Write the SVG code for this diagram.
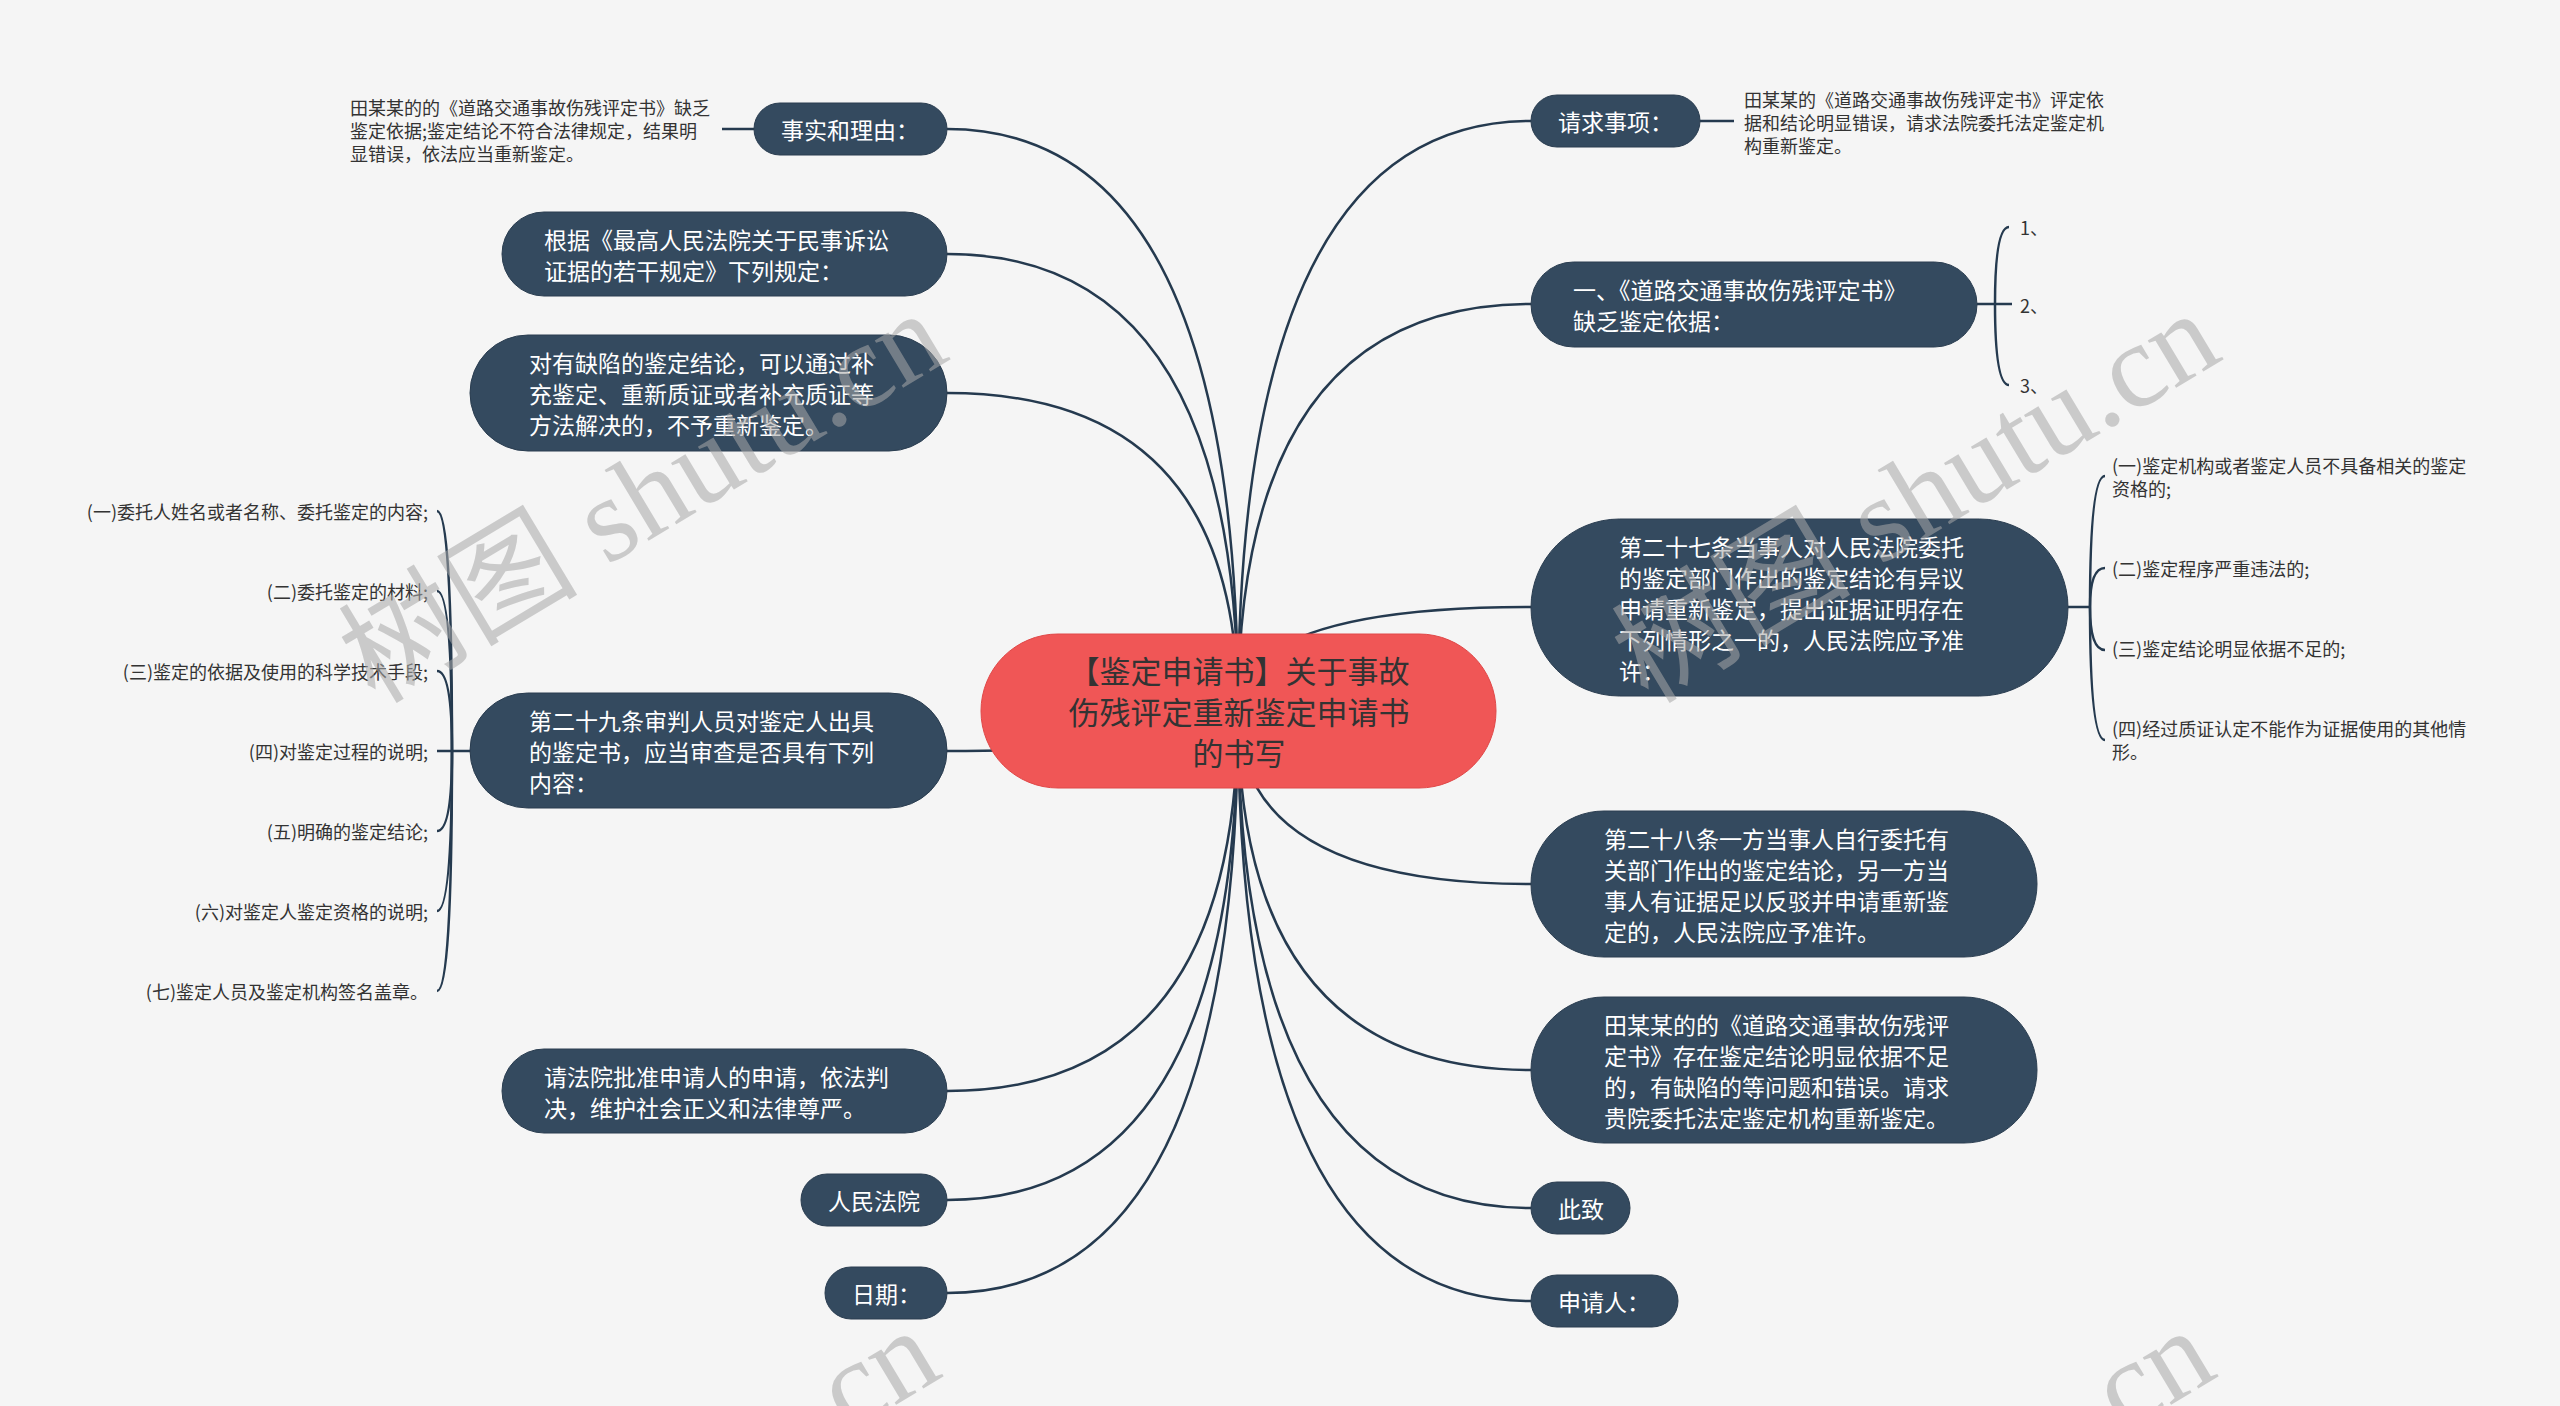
<svg xmlns="http://www.w3.org/2000/svg" width="2560" height="1406" viewBox="0 0 2560 1406">
<style>
.bg{fill:#f5f5f5}
.n rect{fill:#344a5f;stroke:#2a3d50;stroke-width:1}
.n text{fill:#ffffff;font-family:"Noto Sans CJK SC","Noto Sans",sans-serif;font-size:23px;dominant-baseline:central}
.root rect{fill:#f05656;stroke:#e04848;stroke-width:1}
.root text{fill:#333333;font-family:"Noto Sans CJK SC","Noto Sans",sans-serif;font-size:31px;dominant-baseline:central;text-anchor:middle}
.lf{fill:#333333;font-family:"Noto Sans CJK SC","Noto Sans",sans-serif;font-size:18px;dominant-baseline:central}
.c path{fill:none;stroke:#253a4f;stroke-width:2.5}
.wm{fill:#a8a8a8;opacity:0.55;font-family:"Liberation Serif","Noto Sans CJK SC",serif;font-size:120px}
</style>
<rect class="bg" x="0" y="0" width="2560" height="1406"/>
<g id="connectors" class="c">
<path d="M1238,711 Q1238,129 947,129"/>
<path d="M1238,711 Q1238,254 947,254"/>
<path d="M1238,711 Q1238,393 947,393"/>
<path d="M1238,711 Q1238,751 947,751"/>
<path d="M1238,711 Q1238,1091 947,1091"/>
<path d="M1238,711 Q1238,1200 947,1200"/>
<path d="M1238,711 Q1238,1293 947,1293"/>
<path d="M1238,711 Q1238,121 1531,121"/>
<path d="M1238,711 Q1238,304 1531,304"/>
<path d="M1238,711 Q1238,607 1531,607"/>
<path d="M1238,711 Q1238,884 1531,884"/>
<path d="M1238,711 Q1238,1070 1531,1070"/>
<path d="M1238,711 Q1238,1208 1531,1208"/>
<path d="M1238,711 Q1238,1301 1531,1301"/>
<path d="M754,129 H722"/>
<path d="M1700,121 H1734"/>
<path d="M1977,304 H2012"/>
<path d="M1995,304 Q1995,227 2009,227"/>
<path d="M1995,304 Q1995,385 2009,385"/>
<path d="M2068,607 H2090"/>
<path d="M2090,607 Q2090,476 2105,476"/>
<path d="M2090,607 Q2090,568 2105,568"/>
<path d="M2090,607 Q2090,650 2105,650"/>
<path d="M2090,607 Q2090,740 2105,740"/>
<path d="M470,751 H437"/>
<path d="M452,751 Q452,511 437,511"/>
<path d="M452,751 Q452,591 437,591"/>
<path d="M452,751 Q452,671 437,671"/>
<path d="M452,751 Q452,831 437,831"/>
<path d="M452,751 Q452,911 437,911"/>
<path d="M452,751 Q452,991 437,991"/>
</g>
<g id="root" class="root">
<rect x="981" y="634" width="515" height="154" rx="77"/>
<text x="1239" y="669">【鉴定申请书】关于事故</text>
<text x="1239" y="710">伤残评定重新鉴定申请书</text>
<text x="1239" y="751">的书写</text>
</g>
<g id="n-facts" class="n"><rect x="754" y="103" width="193" height="52" rx="26"/><text x="781" y="129">事实和理由：</text></g>
<g id="leaf-facts"><text class="lf" x="350" y="107">田某某的的《道路交通事故伤残评定书》缺乏</text><text class="lf" x="350" y="130">鉴定依据;鉴定结论不符合法律规定，结果明</text><text class="lf" x="350" y="153">显错误，依法应当重新鉴定。</text></g>
<g id="n-basis" class="n"><rect x="502" y="212" width="445" height="84" rx="42"/><text x="544" y="238.5">根据《最高人民法院关于民事诉讼</text><text x="544" y="269.5">证据的若干规定》下列规定：</text></g>
<g id="n-defect" class="n"><rect x="470" y="335" width="477" height="116" rx="58"/><text x="529" y="362">对有缺陷的鉴定结论，可以通过补</text><text x="529" y="393">充鉴定、重新质证或者补充质证等</text><text x="529" y="424">方法解决的，不予重新鉴定。</text></g>
<g id="n-art29" class="n"><rect x="470" y="693" width="477" height="115" rx="57.5"/><text x="529" y="720">第二十九条审判人员对鉴定人出具</text><text x="529" y="751">的鉴定书，应当审查是否具有下列</text><text x="529" y="782">内容：</text></g>
<g id="leaf-art29" style="text-anchor:end">
<text class="lf" x="428" y="511">(一)委托人姓名或者名称、委托鉴定的内容;</text>
<text class="lf" x="428" y="591">(二)委托鉴定的材料;</text>
<text class="lf" x="428" y="671">(三)鉴定的依据及使用的科学技术手段;</text>
<text class="lf" x="428" y="751">(四)对鉴定过程的说明;</text>
<text class="lf" x="428" y="831">(五)明确的鉴定结论;</text>
<text class="lf" x="428" y="911">(六)对鉴定人鉴定资格的说明;</text>
<text class="lf" x="428" y="991">(七)鉴定人员及鉴定机构签名盖章。</text>
</g>
<g id="n-request" class="n"><rect x="502" y="1049" width="445" height="84" rx="42"/><text x="544" y="1075.5">请法院批准申请人的申请，依法判</text><text x="544" y="1106.5">决，维护社会正义和法律尊严。</text></g>
<g id="n-court" class="n"><rect x="801" y="1174" width="146" height="52" rx="26"/><text x="828" y="1200">人民法院</text></g>
<g id="n-date" class="n"><rect x="825" y="1267" width="122" height="52" rx="26"/><text x="852" y="1293">日期：</text></g>
<g id="n-items" class="n"><rect x="1531" y="95" width="169" height="52" rx="26"/><text x="1558" y="121">请求事项：</text></g>
<g id="leaf-items"><text class="lf" x="1744" y="99">田某某的《道路交通事故伤残评定书》评定依</text><text class="lf" x="1744" y="122">据和结论明显错误，请求法院委托法定鉴定机</text><text class="lf" x="1744" y="145">构重新鉴定。</text></g>
<g id="n-one" class="n"><rect x="1531" y="262" width="446" height="85" rx="42.5"/><text x="1573" y="289">一、《道路交通事故伤残评定书》</text><text x="1573" y="320">缺乏鉴定依据：</text></g>
<g id="leaf-one"><text class="lf" x="2020" y="227">1、</text><text class="lf" x="2020" y="305">2、</text><text class="lf" x="2020" y="385">3、</text></g>
<g id="n-art27" class="n"><rect x="1531" y="519" width="537" height="177" rx="88.5"/><text x="1619" y="545.5">第二十七条当事人对人民法院委托</text><text x="1619" y="576.5">的鉴定部门作出的鉴定结论有异议</text><text x="1619" y="607.5">申请重新鉴定，提出证据证明存在</text><text x="1619" y="638.5">下列情形之一的，人民法院应予准</text><text x="1619" y="669.5">许：</text></g>
<g id="leaf-art27">
<text class="lf" x="2112" y="465">(一)鉴定机构或者鉴定人员不具备相关的鉴定</text><text class="lf" x="2112" y="488">资格的;</text>
<text class="lf" x="2112" y="568">(二)鉴定程序严重违法的;</text>
<text class="lf" x="2112" y="648">(三)鉴定结论明显依据不足的;</text>
<text class="lf" x="2112" y="728">(四)经过质证认定不能作为证据使用的其他情</text><text class="lf" x="2112" y="751">形。</text>
</g>
<g id="n-art28" class="n"><rect x="1531" y="811" width="506" height="146" rx="73"/><text x="1604" y="837.5">第二十八条一方当事人自行委托有</text><text x="1604" y="868.5">关部门作出的鉴定结论，另一方当</text><text x="1604" y="899.5">事人有证据足以反驳并申请重新鉴</text><text x="1604" y="930.5">定的，人民法院应予准许。</text></g>
<g id="n-tian" class="n"><rect x="1531" y="997" width="506" height="146" rx="73"/><text x="1604" y="1023.5">田某某的的《道路交通事故伤残评</text><text x="1604" y="1054.5">定书》存在鉴定结论明显依据不足</text><text x="1604" y="1085.5">的，有缺陷的等问题和错误。请求</text><text x="1604" y="1116.5">贵院委托法定鉴定机构重新鉴定。</text></g>
<g id="n-zhizhi" class="n"><rect x="1531" y="1182" width="99" height="52" rx="26"/><text x="1558" y="1208">此致</text></g>
<g id="n-applicant" class="n"><rect x="1531" y="1275" width="147" height="52" rx="26"/><text x="1558" y="1301">申请人：</text></g>
<g id="watermark">
<text class="wm" transform="translate(375,705) rotate(-31)">树图 shutu.cn</text>
<text class="wm" transform="translate(1648,705) rotate(-31)">树图 shutu.cn</text>
<text class="wm" transform="translate(368,1722) rotate(-31)">树图 shutu.cn</text>
<text class="wm" transform="translate(1643,1722) rotate(-31)">树图 shutu.cn</text>
</g>
</svg>
